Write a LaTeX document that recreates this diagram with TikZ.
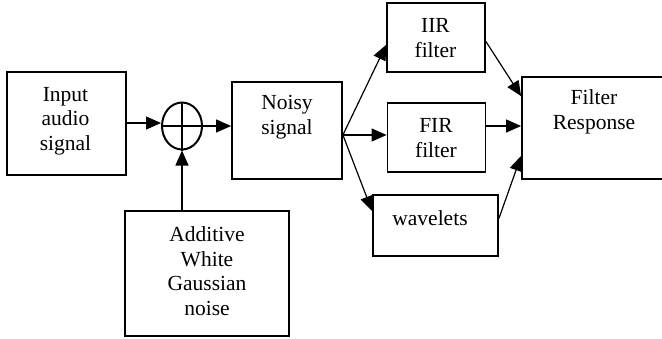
\documentclass[tikz,border=0pt]{standalone}
\usepackage{fontspec}
\setmainfont{Liberation Serif}
\usetikzlibrary{arrows.meta,calc,shapes.geometric}

\tikzset{
  blk/.style={draw, line width=1.8pt, rectangle, inner sep=0pt},
  txt/.style={align=center, inner sep=0pt, font=\fontsize{21.5}{24.5}\selectfont},
  arr/.style={line width=1.2pt, -{Triangle[length=15pt,width=13pt]}},
  wire/.style={line width=1.2pt}
}

\begin{document}
\begin{tikzpicture}[x=1pt, y=-1pt]
  \useasboundingbox (0,0) rectangle (662,338);

  % blocks
  \node[blk, minimum width=119pt, minimum height=103pt] (input) at (66.5,123.5) {};
  \node[blk, ellipse, line width=2pt, minimum width=40pt, minimum height=47pt] (sum) at (182,126) {};
  \node[blk, minimum width=110pt, minimum height=97pt] (noisy) at (287,130.5) {};
  \node[blk, minimum width=164pt, minimum height=125pt] (noise) at (207,273.5) {};
  \node[blk, minimum width=98pt, minimum height=69pt] (iir) at (436,37.5) {};
  \node[blk, minimum width=98pt, minimum height=69pt] (fir) at (436.5,137.5) {};
  \node[blk, minimum width=125pt, minimum height=61pt] (wav) at (435.5,225.5) {};
  \node[blk, minimum width=142pt, minimum height=102pt] (fr) at (593,128) {};

  % summing junction cross
  \draw[line width=2pt] (sum.north) -- (sum.south) (sum.west) -- (sum.east);

  % labels
  \node[txt] (tinput) at (65.5,121) {Input\\audio\\signal};
  \node[txt] (tnoisy) at (287,117) {Noisy\\signal};
  \node[txt] (tnoise) at (207,271) {Additive\\White\\Gaussian\\noise};
  \node[txt] (tiir) at (435.5,38) {IIR\\filter};
  \node[txt] (tfir) at (436,138) {FIR\\filter};
  \node[txt] (twav) at (430,218) {wavelets};
  \node[txt] (tfr) at (594,112) {Filter\\Response};

  % signal path
  \draw[arr] ($(input.east)+(0,-0.5)$) -- ($(sum.west)+(0,-3)$);
  \draw[arr] (sum.east) -- (sum.east -| noisy.west);
  \draw[arr] (sum |- noise.north) -- (sum.south);

  % branches to the three filters
  \coordinate (split) at ($(noisy.east)+(0,4.5)$);
  \draw[arr] (split) -- ($(iir.south west)+(0,-28)$);
  \draw[arr] (split) -- (split -| fir.west);
  \draw[arr] (split) -- ($(wav.north west)+(0,17)$);

  % filter outputs
  \draw[arr] ($(iir.east)+(0,4)$) -- ($(fr.north west)+(0,20)$);
  \draw[arr] ($(fr.west -| fir.east)+(0,-2)$) -- ($(fr.west)+(0,-2)$);
  \draw[arr] ($(wav.east)+(0,-7)$) -- ($(fr.south west)+(0,-24)$);
\end{tikzpicture}
\end{document}
